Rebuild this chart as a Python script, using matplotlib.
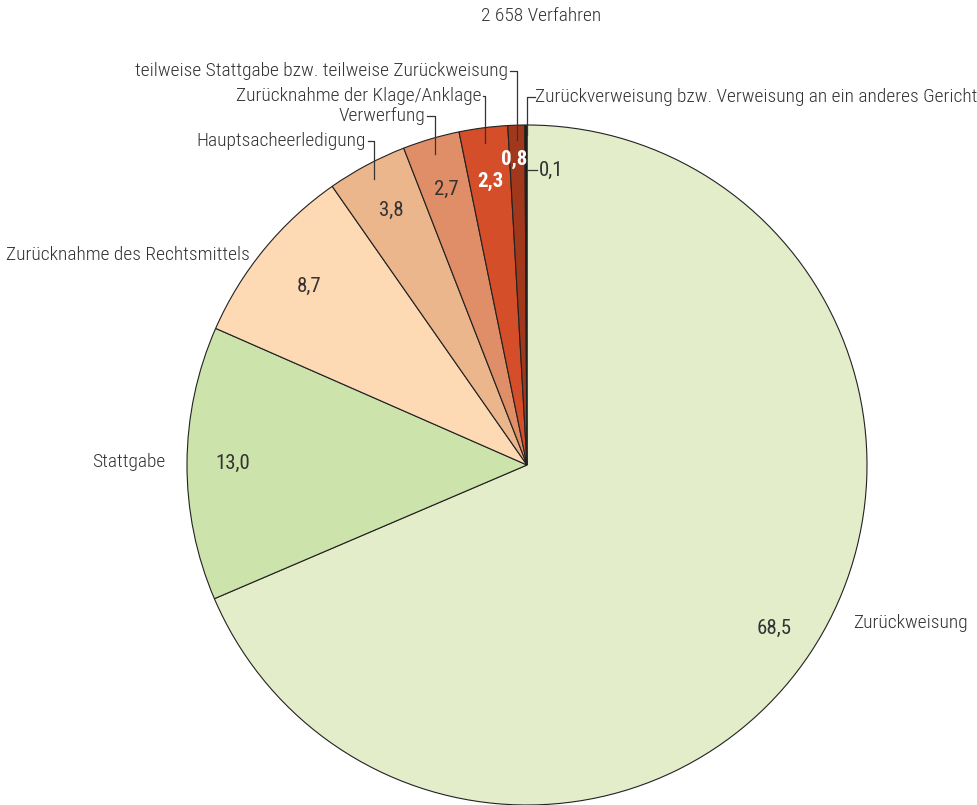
import numpy as np
import matplotlib
import matplotlib.pyplot as plt

matplotlib.use("Agg")

plt.rcParams["font.family"] = ["Roboto Condensed", "DejaVu Sans"]

# data (percent of 2 658 proceedings)
categories = ["Zurückweisung", "Stattgabe", "Zurücknahme des Rechtsmittels",
              "Hauptsacheerledigung", "Verwerfung", "Zurücknahme der Klage/Anklage",
              "teilweise Stattgabe bzw. teilweise Zurückweisung",
              "Zurückverweisung bzw. Verweisung an ein anderes Gericht"]
values = [68.5, 13.0, 8.7, 3.8, 2.7, 2.3, 0.8, 0.1]
value_labels = ["68,5", "13,0", "8,7", "3,8", "2,7", "2,3", "0,8", "0,1"]
colors = ["#e3edca", "#cde3ac", "#fdd9b4", "#ecb68c", "#e08e67",
          "#d44e2a", "#a1381b", "#1a1a1a"]
title = "2 658 Verfahren"

W, H = 978, 805
fig = plt.figure(figsize=(W / 100, H / 100), dpi=100)
ax = fig.add_axes([0, 0, 1, 1])

cx, cy, R = 527, H - 465, 340
txt = "#333333"
fs = 14
vfs = 15
fw = "light"

wedges, _ = ax.pie(values, colors=colors, startangle=90, counterclock=False,
                   center=(cx, cy), radius=R, frame=True,
                   wedgeprops=dict(edgecolor="#222222", linewidth=0.8))
ax.set_xlim(0, W)
ax.set_ylim(0, H)
ax.set_aspect("equal")
ax.axis("off")


def mid_angle(w):
    return np.deg2rad((w.theta1 + w.theta2) / 2)


def pt(w, frac):
    a = mid_angle(w)
    return cx + frac * R * np.cos(a), cy + frac * R * np.sin(a)


# value labels inside wedges
fracs = [0.87, 0.865, 0.83, 0.85, 0.845, 0.84, 0.9]
white = [False] * 5 + [True, True]
for w, lab, f, wh in zip(wedges[:7], value_labels[:7], fracs, white):
    x, y = pt(w, f)
    if lab == "0,8":
        x -= 3
    ax.text(x, y, lab, ha="center", va="center", fontsize=vfs,
            color="white" if wh else txt, fontweight="bold" if wh else "normal")

# outside labels without leaders
ax.text(853, H - 623, categories[0], ha="left", va="center", fontsize=fs, color=txt, fontweight=fw)
ax.text(165, H - 462, categories[1], ha="right", va="center", fontsize=fs, color=txt, fontweight=fw)
ax.text(250, H - 255, categories[2], ha="right", va="center", fontsize=fs, color=txt, fontweight=fw)

# labels with leader lines: (wedge index, label y, text end x)
leaders = [(3, 141, 366), (4, 116, 425), (5, 96, 481), (6, 71, 508)]
for i, ly, tx in leaders:
    x0, y0 = pt(wedges[i], 0.955)
    ax.plot([tx + 2, x0, x0], [H - ly, H - ly, y0], color=txt, lw=0.9)
    ax.text(tx, H - ly, categories[i], ha="right", va="center", fontsize=fs, color=txt, fontweight=fw)

# smallest wedge
ax.plot([cx + 8, cx, cx], [H - 97, H - 97, H - 135], color=txt, lw=0.9)
ax.text(535, H - 97, categories[7], ha="left", va="center", fontsize=fs, color=txt, fontweight=fw)
ax.plot([cx, cx + 10], [H - 170, H - 170], color=txt, lw=0.9)
ax.text(539, H - 170, value_labels[7], ha="left", va="center", fontsize=vfs, color=txt)

ax.text(541, H - 16, title, ha="center", va="center", fontsize=fs, color=txt, fontweight=fw)

fig.savefig("out.png", dpi=100)
